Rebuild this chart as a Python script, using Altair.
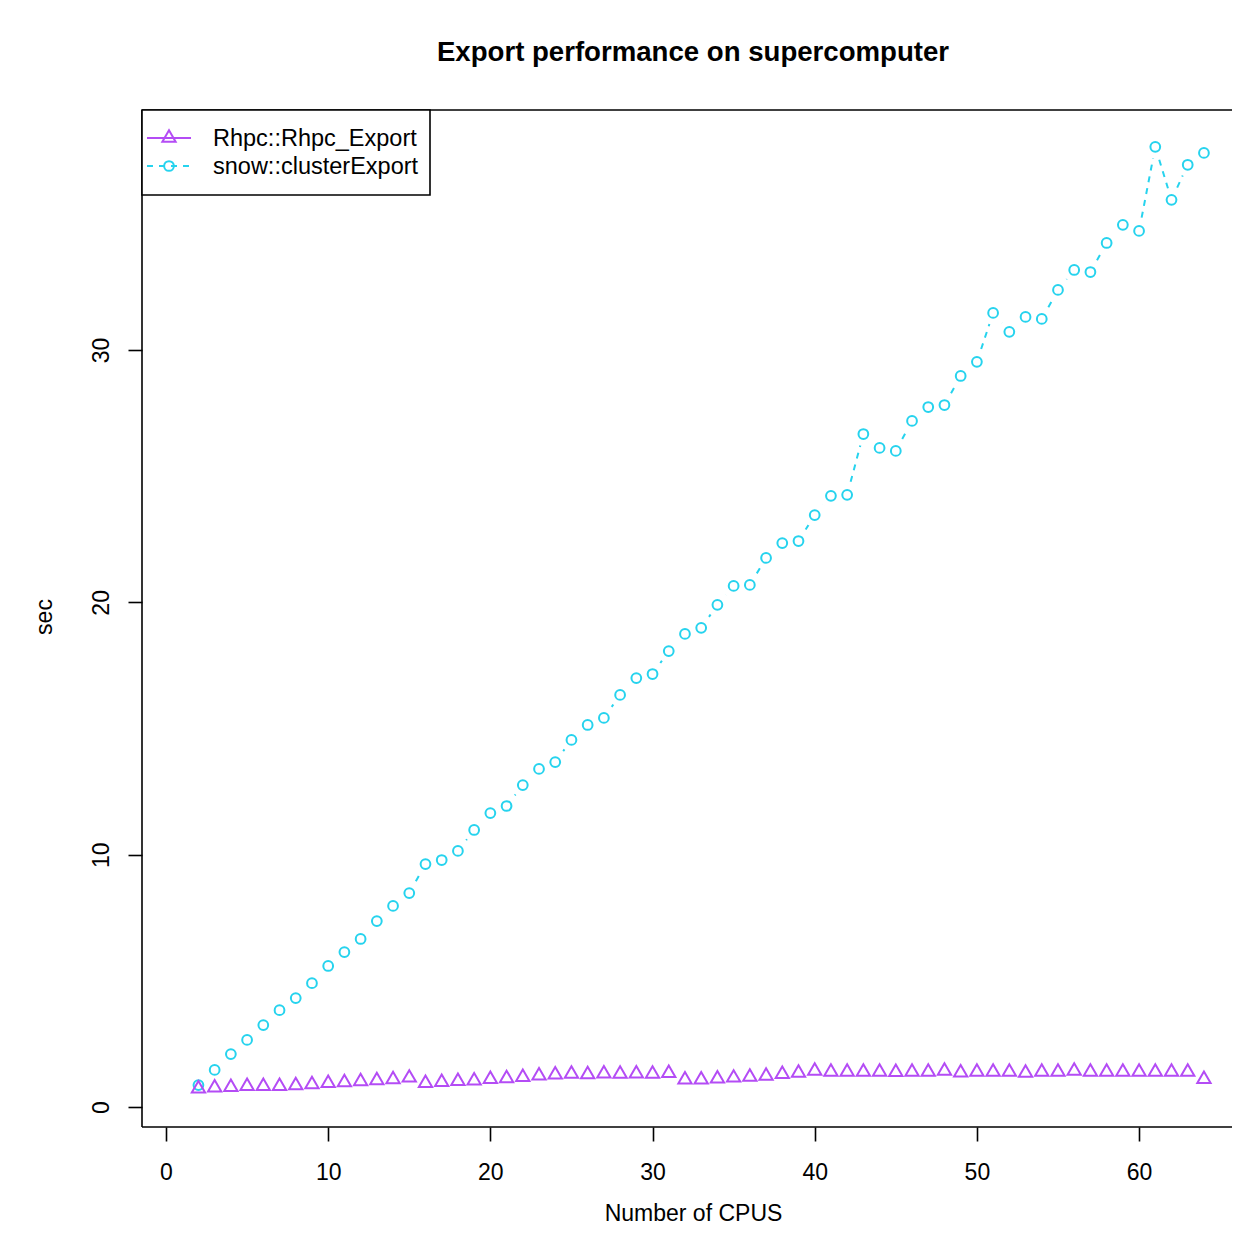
import altair as alt
import pandas as pd

# ---------------- data ----------------
cpus = list(range(2, 65))
rhpc = [0.73, 0.77, 0.79, 0.83, 0.83, 0.83, 0.86, 0.90, 0.95,
        0.98, 1.02, 1.06, 1.10, 1.16, 0.95, 0.99, 1.03, 1.05, 1.11,
        1.14, 1.18, 1.24, 1.28, 1.31, 1.29, 1.32, 1.31, 1.32, 1.31,
        1.34, 1.09, 1.09, 1.13, 1.16, 1.19, 1.23, 1.30, 1.35, 1.43,
        1.39, 1.39, 1.39, 1.39, 1.38, 1.39, 1.39, 1.43, 1.36, 1.39,
        1.39, 1.39, 1.35, 1.39, 1.39, 1.43, 1.39, 1.39, 1.39, 1.39,
        1.39, 1.39, 1.39, 1.11]
snow = [0.87, 1.47, 2.10, 2.66, 3.25, 3.84, 4.32, 4.91, 5.59,
        6.14, 6.66, 7.37, 7.97, 8.48, 9.63, 9.79, 10.15, 10.98, 11.65,
        11.93, 12.76, 13.40, 13.67, 14.55, 15.14, 15.42, 16.33, 17.00, 17.16,
        18.07, 18.75, 18.99, 19.90, 20.65, 20.69, 21.76, 22.35, 22.43, 23.46,
        24.22, 24.26, 26.67, 26.12, 26.00, 27.19, 27.74, 27.82, 28.97, 29.53,
        31.47, 30.72, 31.31, 31.23, 32.38, 33.17, 33.09, 34.24, 34.96, 34.72,
        38.05, 35.95, 37.34, 37.81]
series_names = ["Rhpc::Rhpc_Export", "snow::clusterExport"]
x_ticks = [0, 10, 20, 30, 40, 50, 60]
y_ticks = [0, 10, 20, 30]
title_text = "Export performance on supercomputer"
x_title = "Number of CPUS"
y_title = "sec"

# ---------------- styling ----------------
PURPLE = "#B44CF5"
CYAN = "#26D3EE"
FONT = "Liberation Sans"
W, H = 1090, 1017
x_dom = [-1.48, 65.73]
y_dom = [-0.79, 39.51]
TRI = "M0,-1L0.866,0.5L-0.866,0.5Z"
CIRC_SIZE = 95
TRI_SIZE = 235
SW = 2.0
DASH = [6, 6]

rh = pd.DataFrame({"cpus": cpus, "sec": rhpc})
sn = pd.DataFrame({"cpus": cpus, "sec": snow})
seg = pd.DataFrame({"cpus": cpus[:-1], "sec": snow[:-1],
                    "cpus2": cpus[1:], "sec2": snow[1:]})
one = pd.DataFrame({"k": [0]})

xs = alt.Scale(domain=x_dom, nice=False, zero=False)
ys = alt.Scale(domain=y_dom, nice=False, zero=False)

x_axis = alt.Axis(values=x_ticks, title=None, grid=False, domain=False,
                  tickSize=14, tickWidth=1.6, tickColor="black",
                  labelFontSize=23, labelColor="black", labelPadding=20,
                  labelFont=FONT, labelFlush=False)
y_axis = alt.Axis(values=y_ticks, title=None, grid=False, domain=False,
                  tickSize=14, tickWidth=1.6, tickColor="black",
                  labelFontSize=23, labelColor="black", labelPadding=20,
                  labelFont=FONT, labelAngle=270, labelAlign="center",
                  labelBaseline="alphabetic", labelFlush=False)


def xy(df_chart):
    return df_chart.encode(
        x=alt.X("cpus:Q", scale=xs, axis=x_axis),
        y=alt.Y("sec:Q", scale=ys, axis=y_axis))


# plot box (top, left, bottom)
box_top = alt.Chart(one).mark_rule(color="black", strokeWidth=1.6).encode(
    x=alt.value(0), x2=alt.value(W), y=alt.value(0))
box_left = alt.Chart(one).mark_rule(color="black", strokeWidth=1.6).encode(
    x=alt.value(0), y=alt.value(0), y2=alt.value(H))
box_bottom = alt.Chart(one).mark_rule(color="black", strokeWidth=1.6).encode(
    x=alt.value(0), x2=alt.value(W), y=alt.value(H))

# dashed connecting segments of snow series
segs = alt.Chart(seg).mark_rule(color=CYAN, strokeWidth=SW,
                                strokeDash=DASH, strokeDashOffset=10.5).encode(
    x=alt.X("cpus:Q", scale=xs, axis=x_axis),
    y=alt.Y("sec:Q", scale=ys, axis=y_axis),
    x2="cpus2:Q", y2="sec2:Q")

# gaps around points (type = "b")
masks = xy(alt.Chart(sn).mark_circle(color="white", opacity=1, size=560))

circles = xy(alt.Chart(sn).mark_point(shape="circle", filled=False, color=CYAN,
                                      strokeWidth=SW, size=CIRC_SIZE, opacity=1))

tris = xy(alt.Chart(rh).mark_point(shape=TRI, filled=False, color=PURPLE,
                                   strokeWidth=SW, size=TRI_SIZE, opacity=1))

# legend
leg_box = alt.Chart(one).mark_rect(fill="white", stroke="black", strokeWidth=1.6).encode(
    x=alt.value(0), x2=alt.value(288), y=alt.value(0), y2=alt.value(85))
leg_l1 = alt.Chart(one).mark_rule(color=PURPLE, strokeWidth=SW).encode(
    x=alt.value(5), x2=alt.value(49), y=alt.value(28))
leg_p1 = alt.Chart(one).mark_point(shape=TRI, filled=False, color=PURPLE,
                                   strokeWidth=SW, size=TRI_SIZE, opacity=1).encode(
    x=alt.value(27), y=alt.value(28))
leg_l2 = alt.Chart(one).mark_rule(color=CYAN, strokeWidth=SW, strokeDash=DASH).encode(
    x=alt.value(5), x2=alt.value(49), y=alt.value(56))
leg_p2 = alt.Chart(one).mark_point(shape="circle", filled=False, color=CYAN,
                                   strokeWidth=SW, size=CIRC_SIZE, opacity=1).encode(
    x=alt.value(27), y=alt.value(56))
leg_t1 = alt.Chart(one).mark_text(text=series_names[0], font=FONT, fontSize=23.5,
                                  align="left", baseline="alphabetic", color="black").encode(
    x=alt.value(71), y=alt.value(36))
leg_t2 = alt.Chart(one).mark_text(text=series_names[1], font=FONT, fontSize=23.5,
                                  align="left", baseline="alphabetic", color="black").encode(
    x=alt.value(71), y=alt.value(64))

# titles
t_main = alt.Chart(one).mark_text(text=title_text, font=FONT, fontSize=27.6,
                                  fontWeight="bold", align="center",
                                  baseline="alphabetic", color="black").encode(
    x=alt.value(551), y=alt.value(-49))
t_x = alt.Chart(one).mark_text(text=x_title, font=FONT, fontSize=23, align="center",
                               baseline="alphabetic", color="black").encode(
    x=alt.value(551.5), y=alt.value(1111))
t_y = alt.Chart(one).mark_text(text=y_title, font=FONT, fontSize=23, align="center",
                               baseline="alphabetic", angle=270, color="black").encode(
    x=alt.value(-90), y=alt.value(507))

chart = alt.layer(
    box_top, box_left, box_bottom,
    segs, masks, circles, tris,
    leg_box, leg_l1, leg_p1, leg_l2, leg_p2, leg_t1, leg_t2,
    t_main, t_x, t_y,
).properties(
    width=W, height=H,
    autosize=alt.AutoSizeParams(type="none"),
    padding={"left": 134, "top": 102, "right": 0, "bottom": 100},
).configure(font=FONT).configure_view(strokeWidth=0)

chart.save("out.html", embed_options={"renderer": "svg", "actions": False})
